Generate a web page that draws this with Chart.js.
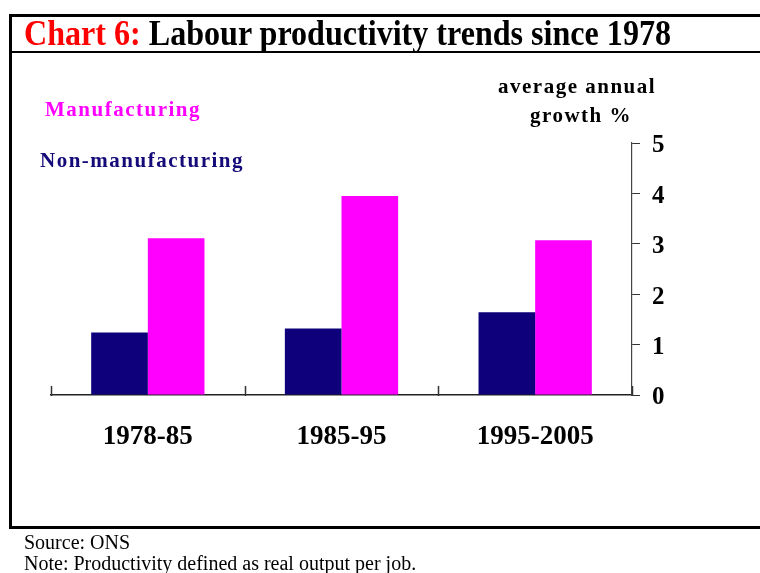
<!DOCTYPE html>
<html><head><meta charset="utf-8">
<script src="https://cdn.jsdelivr.net/npm/chart.js@4"></script>
<style>
html,body{margin:0;padding:0;background:#fff;width:760px;height:573px;overflow:hidden;}
#wrap{position:relative;width:760px;height:573px;}
canvas{position:absolute;left:0;top:0;}
.t{position:absolute;white-space:nowrap;font-family:"Liberation Serif","Times New Roman",serif;line-height:1;margin:0;}
.b{font-weight:bold;}
</style></head><body>
<div id="wrap">
<canvas id="c" width="760" height="573"></canvas>
<div style="position:absolute;left:9px;top:14px;width:800px;height:515px;border:3px solid #000;box-sizing:border-box;"></div>
<div style="position:absolute;left:9px;top:51px;width:800px;height:2px;background:#000;"></div>
<div id="title" class="t b" style="left:24px;top:16px;font-size:35px;transform-origin:0 0;"><span style="color:#ff0000">Chart 6:</span> Labour productivity trends since 1978</div>
<div class="t b" style="left:45px;top:99px;font-size:21px;letter-spacing:1.5px;color:#ff00ff;">Manufacturing</div>
<div class="t b" style="left:40px;top:150px;font-size:21px;letter-spacing:1.5px;color:#140a78;">Non-manufacturing</div>
<div class="t b" style="left:498px;top:76px;font-size:21px;letter-spacing:1.5px;color:#000;">average annual</div>
<div class="t b" style="left:530px;top:105px;font-size:21px;letter-spacing:1.5px;color:#000;">growth %</div>
<div class="t" style="left:24px;top:532px;font-size:20px;color:#000;">Source: ONS</div>
<div class="t" style="left:24px;top:553px;font-size:20px;color:#000;">Note: Productivity defined as real output per job.</div>
</div>
<script>
const categories = ['1978-85', '1985-95', '1995-2005'];
const nonManufacturing = [1.24, 1.32, 1.64];
const manufacturing = [3.11, 3.95, 3.07];
const yTicks = [0, 1, 2, 3, 4, 5];

// fit title width
(function(){
  const t = document.getElementById('title');
  const w = t.getBoundingClientRect().width;
  t.style.transform = 'scaleX(' + (647 / w) + ')';
})();

const boundaryTicks = {
  id: 'boundaryTicks',
  afterDraw(chart) {
    const x = chart.scales.x, ctx = chart.ctx;
    const y0 = chart.chartArea.bottom;
    const xs = [chart.chartArea.left];
    for (let i = 1; i < categories.length; i++) {
      xs.push((x.getPixelForTick(i - 1) + x.getPixelForTick(i)) / 2);
    }
    xs.push(chart.chartArea.right);
    ctx.save();
    ctx.strokeStyle = '#333';
    ctx.lineWidth = 1.5;
    xs.forEach(px => {
      ctx.beginPath();
      ctx.moveTo(Math.round(px) + 0.5, y0 + 1);
      ctx.lineTo(Math.round(px) + 0.5, y0 - 9);
      ctx.stroke();
    });
    ctx.restore();
  }
};

new Chart(document.getElementById('c'), {
  type: 'bar',
  data: {
    labels: categories,
    datasets: [
      { label: 'Non-manufacturing', data: nonManufacturing, backgroundColor: '#0d007a', borderWidth: 0 },
      { label: 'Manufacturing', data: manufacturing, backgroundColor: '#ff00ff', borderWidth: 0 }
    ]
  },
  options: {
    responsive: false,
    animation: false,
    devicePixelRatio: 1,
    layout: { padding: { left: 51, top: 143, right: 0, bottom: 0 } },
    categoryPercentage: 0.585,
    barPercentage: 1.0,
    plugins: { legend: { display: false }, tooltip: { enabled: false }, title: { display: false } },
    scales: {
      x: {
        position: 'bottom',
        grid: { display: false, drawTicks: false },
        border: { display: true, color: '#222', width: 1.5 },
        ticks: { color: '#000', padding: 26, maxRotation: 0,
          font: { family: '"Liberation Serif", "Times New Roman", serif', size: 27, weight: 'bold' } },
        afterFit(scale) { scale.height = 573 - 395; }
      },
      y: {
        position: 'right',
        min: 0, max: 5,
        afterBuildTicks(scale) { scale.ticks = yTicks.map(v => ({ value: v })); },
        grid: { drawOnChartArea: false, drawTicks: true, tickLength: 8, color: '#333', lineWidth: 1 },
        border: { display: true, color: '#444', width: 1.2 },
        ticks: { color: '#000', padding: 12, labelOffset: 3,
          font: { family: '"Liberation Serif", "Times New Roman", serif', size: 25, weight: 'bold' } },
        afterFit(scale) { scale.width = 760 - 632; }
      }
    }
  },
  plugins: [boundaryTicks]
});
</script>
</body></html>
